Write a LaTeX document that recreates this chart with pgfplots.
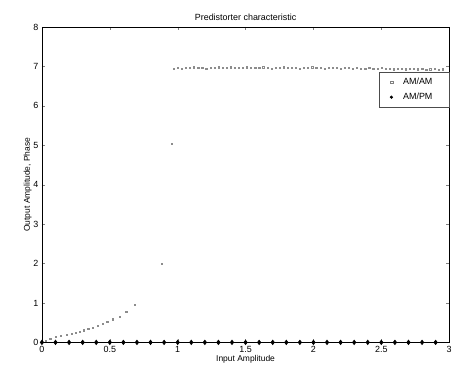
\documentclass[border=0pt]{standalone}
\usepackage{fontspec}
\setmainfont{Liberation Sans}
\usepackage{pgfplots}
\pgfplotsset{compat=1.18}
\begin{document}
\begin{tikzpicture}
\begin{axis}[
  scale only axis,
  width=408bp, height=316bp,
  xmin=0, xmax=3, ymin=0, ymax=8,
  xtick={0,0.5,1,1.5,2,2.5,3},
  xticklabels={0,0.5,1,1.5,2,2.5,3},
  ytick={0,1,2,3,4,5,6,7,8},
  tick label style={font=\fontsize{9}{10}\selectfont},
  /pgf/number format/assume math mode=true,
  title={Predistorter characteristic},
  title style={font=\fontsize{9}{10}\selectfont, yshift=-3bp},
  xlabel={Input Amplitude},
  ylabel={Output Amplitude, Phase},
  label style={font=\fontsize{8.5}{9}\selectfont},
  xlabel style={yshift=4bp},
  ylabel style={yshift=-5bp},
  tick align=inside,
  major tick length=3bp,
  legend style={at={(1,0.857)}, anchor=north east, font=\fontsize{9}{10}\selectfont, draw=black!70, inner xsep=4pt, inner ysep=4pt, row sep=3pt, nodes={text width=40bp}},
  legend cell align=left,
  axis line style={black, line width=0.7pt},
]
\addplot[only marks, mark=square, mark size=0.6pt, black!45, mark options={line width=0.25pt},
  legend image code/.code={\path (0,0) (0.6cm,0); \draw[black!50, line width=0.3pt] (0.22cm,-0.05cm) rectangle (0.32cm,0.05cm);}] coordinates {
(0.00,0.00)(0.03,0.05)(0.06,0.09)(0.10,0.15)(0.14,0.17)(0.18,0.20)(0.22,0.23)(0.25,0.25)(0.28,0.28)(0.31,0.31)
(0.34,0.34)(0.375,0.38)(0.41,0.43)(0.45,0.48)(0.48,0.53)(0.52,0.59)(0.57,0.66)(0.62,0.78)(0.68,0.96)
(0.88,2.00)(0.956,5.04)
(0.97,6.94)(1.00,6.96)(1.03,6.95)(1.06,6.97)(1.09,6.96)(1.12,6.98)(1.15,6.96)(1.18,6.97)(1.21,6.95)(1.24,6.97)
(1.27,6.96)(1.30,6.98)(1.33,6.97)(1.36,6.96)(1.39,6.98)(1.42,6.97)(1.45,6.96)(1.48,6.97)(1.51,6.98)(1.54,6.96)
(1.57,6.97)(1.60,6.96)(1.63,6.98)(1.66,6.97)(1.69,6.95)(1.72,6.97)(1.75,6.96)(1.78,6.98)(1.81,6.97)(1.84,6.96)
(1.87,6.97)(1.90,6.95)(1.93,6.97)(1.96,6.96)(1.99,6.98)(2.02,6.97)(2.05,6.96)(2.08,6.95)(2.11,6.97)(2.14,6.96)
(2.17,6.97)(2.20,6.95)(2.23,6.96)(2.26,6.97)(2.29,6.95)(2.32,6.96)(2.35,6.94)(2.38,6.95)(2.41,6.96)(2.44,6.94)
(2.47,6.95)(2.50,6.96)(2.53,6.94)(2.56,6.95)(2.59,6.93)(2.62,6.95)(2.65,6.94)(2.68,6.93)(2.71,6.95)(2.74,6.94)
(2.77,6.93)(2.80,6.94)(2.83,6.92)(2.86,6.93)(2.89,6.94)(2.92,6.92)(2.95,6.93)
};
\addlegendentry{AM/AM}
\addplot[black, line width=0.7pt, mark=diamond*, mark size=2.2pt,
  legend image code/.code={\path (0,0) (0.6cm,0); \fill[black] (0.27cm,0) circle (1.2pt);}] coordinates {
(0,0)(0.1,0)(0.2,0)(0.3,0)(0.4,0)(0.5,0)(0.6,0)(0.7,0)(0.8,0)(0.9,0)
(1.0,0)(1.1,0)(1.2,0)(1.3,0)(1.4,0)(1.5,0)(1.6,0)(1.7,0)(1.8,0)(1.9,0)
(2.0,0)(2.1,0)(2.2,0)(2.3,0)(2.4,0)(2.5,0)(2.6,0)(2.7,0)(2.8,0)(2.9,0)
};
\addlegendentry{AM/PM}
\end{axis}
\path (current axis.south west)+(-42bp,-36bp) (current axis.north east)+(5bp,27bp);
\end{tikzpicture}
\end{document}
